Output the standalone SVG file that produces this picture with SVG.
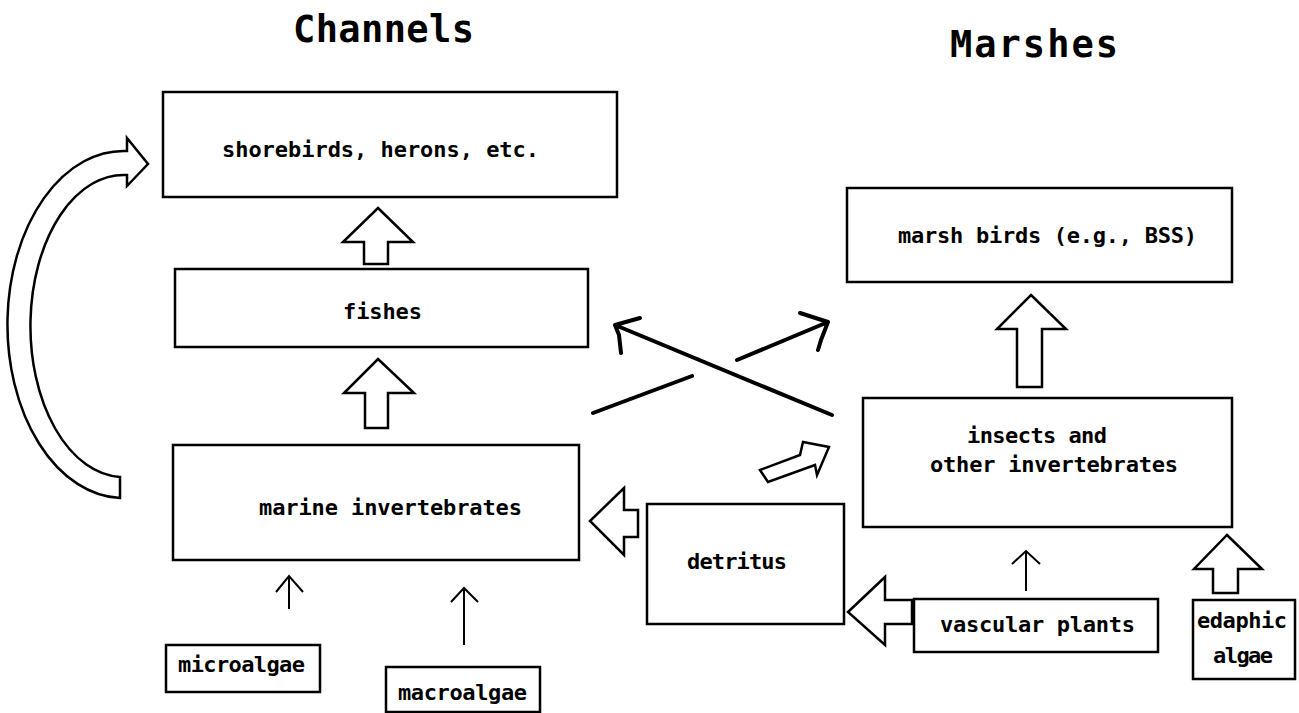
<svg xmlns="http://www.w3.org/2000/svg" width="1299" height="713" viewBox="0 0 1299 713">
<style>
.box{fill:#fff;stroke:#000;stroke-width:2.5}
.t{font-family:"DejaVu Sans Mono","Liberation Mono",monospace;font-size:22px;font-weight:bold;fill:#000}
.title{font-family:"DejaVu Sans Mono","Liberation Mono",monospace;font-size:37px;font-weight:bold;fill:#000}
.blk{fill:#fff;stroke:#000;stroke-width:2.5;stroke-linejoin:miter}
.thin{fill:none;stroke:#000;stroke-width:2}
.hand{fill:none;stroke:#000;stroke-width:4;stroke-linecap:round;stroke-linejoin:round}
</style>
<rect width="1299" height="713" fill="#fff"/>
<text class="title" x="293" y="42" textLength="181">Channels</text>
<text class="title" x="950" y="57" textLength="168">Marshes</text>

<g id="shorebirds"><rect class="box" x="163" y="92" width="454" height="105"/><text class="t" x="222" y="157" textLength="317">shorebirds, herons, etc.</text></g>
<g id="fishes"><rect class="box" x="175" y="269" width="413" height="78"/><text class="t" x="343" y="319" textLength="79">fishes</text></g>
<g id="marine"><rect class="box" x="173" y="445" width="406" height="115"/><text class="t" x="259" y="515" textLength="263">marine invertebrates</text></g>
<g id="detritus"><rect class="box" x="647" y="504" width="197" height="120"/><text class="t" x="687" y="569" textLength="100">detritus</text></g>
<g id="marshbirds"><rect class="box" x="847" y="188" width="385" height="94"/><text class="t" x="898" y="243" textLength="299">marsh birds (e.g., BSS)</text></g>
<g id="insects"><rect class="box" x="863" y="398" width="369" height="129"/><text class="t" x="967" y="443" textLength="140">insects and</text><text class="t" x="930" y="472" textLength="248">other invertebrates</text></g>
<g id="microalgae"><rect class="box" x="166" y="645" width="154" height="47"/><text class="t" x="178" y="672" textLength="127">microalgae</text></g>
<g id="macroalgae"><rect class="box" x="386" y="667" width="154" height="45"/><text class="t" x="398" y="700" textLength="129">macroalgae</text></g>
<g id="vascular"><rect class="box" x="914" y="599" width="244" height="53"/><text class="t" x="940" y="632" textLength="195">vascular plants</text></g>
<g id="edaphic"><rect class="box" x="1193" y="600" width="102" height="79"/><text class="t" x="1197" y="628" textLength="90">edaphic</text><text class="t" x="1213" y="663" textLength="60">algae</text></g>

<g id="connectors">
<path class="blk" d="M127,151 A116,173.5 0 0 0 120,498 L120,477 A93,151 0 0 1 127,175 L127,186 L148,164 L127,138 Z"/>
<polygon class="blk" points="378,208 413,242 388,242 388,264 364,264 364,242 343,242"/>
<polygon class="blk" points="378,359 414,393 388,393 388,428 365,428 365,393 344,393"/>
<polygon class="blk" points="1031,295 1066,329 1042,329 1042,387 1017,387 1017,329 997,329"/>
<polygon class="blk" points="1227,535 1262,569 1238,569 1238,593 1213,593 1213,569 1194,569"/>
<polygon class="blk" points="590,521 624,488 624,510 638,510 638,537 624,537 624,555"/>
<polygon class="blk" points="848,612 885,577 885,600 912,600 912,624 885,624 885,645"/>
<polygon class="blk" points="760,470 800,455 803,442 829,447 817,475 815,465 768,482"/>
<line class="thin" x1="289" y1="576" x2="289" y2="609"/><polyline class="thin" points="276,592 289,576 303,592"/>
<line class="thin" x1="464" y1="588" x2="464" y2="645"/><polyline class="thin" points="451,602 464,588 478,602"/>
<line class="thin" x1="1026" y1="551" x2="1026" y2="591"/><polyline class="thin" points="1012,564 1026,551 1040,564"/>
<path class="hand" d="M832,415 L615,325 M615,325 L640,318 M615,325 L619,335 L621,353"/>
<path class="hand" d="M593,413 L692,376 M737,360 L828,322 M828,322 L800,313 M828,322 L821,340 L818,350"/>
</g>
</svg>
